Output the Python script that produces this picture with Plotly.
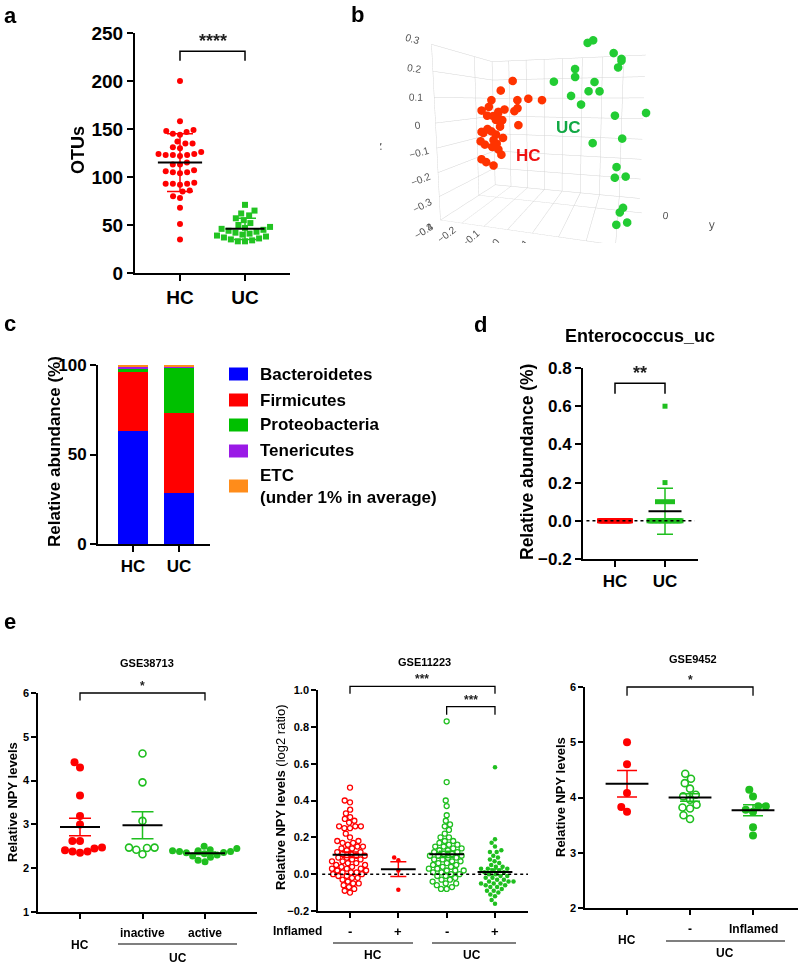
import numpy as np
import plotly.graph_objects as go

W, H = 800, 967
FONT = "Liberation Sans, Arial, Helvetica, sans-serif"
RED = "#ff0000"
GREEN = "#1fbf1f"
GREEN_A = "#22c322"

# ---------------- data ----------------
# a: OTUs
a_groups = ["HC", "UC"]
a_hc = [200, 158, 149, 148, 147, 145, 144, 137, 135, 135, 131, 130, 126, 124, 124, 123, 123, 123, 122,
        115, 113, 113, 107, 106, 105, 105, 104, 94, 93, 93, 93, 92, 86, 85, 80, 78, 68, 51, 35]
a_uc = [71, 65, 62, 60, 57, 55, 52, 50, 48, 47, 46, 45, 44, 43, 42, 41, 40, 39, 38, 37, 36, 35, 34, 33, 33]
a_mean = [115, 46]
a_sd = [30, 11]

# b: PCoA 3D
b_hc_x = [0.015, -0.025, -0.08, 0.08, 0.12, 0.035, -0.12, -0.075, -0.055, -0.02, 0.025, 0.03, -0.10, -0.065,
          -0.03, 0.045, -0.04, -0.13, -0.105, -0.08, -0.055, -0.02, -0.075, -0.125, -0.10, -0.065, -0.075,
          -0.04, -0.04, -0.12, -0.11, -0.065, -0.05, -0.06, -0.09]
b_hc_z = [0.16, 0.125, 0.09, 0.095, 0.09, 0.09, 0.05, 0.065, 0.045, 0.055, 0.05, 0.06, 0.03, 0.03, 0.015,
          0.0, -0.01, -0.035, -0.035, -0.03, -0.04, -0.05, -0.065, -0.07, -0.08, -0.08, -0.09, -0.095,
          -0.12, -0.14, -0.155, -0.16, 0.04, 0.015, -0.02]
b_hc_y = [-0.44, -0.47, -0.42, -0.46, -0.40, -0.45, -0.43, -0.47, -0.41, -0.44, -0.46, -0.43, -0.42, -0.45,
          -0.44, -0.48, -0.44, -0.41, -0.46, -0.43, -0.45, -0.47, -0.42, -0.44, -0.46, -0.41, -0.44, -0.47,
          -0.43, -0.45, -0.42, -0.46, -0.43, -0.43, -0.45]
b_uc_x = [0.285, 0.305, 0.375, 0.40, 0.40, 0.39, 0.24, 0.245, 0.17, 0.315, 0.295, 0.33, 0.23, 0.27, 0.385,
          0.48, 0.41, 0.31, 0.395, 0.39, 0.425, 0.42, 0.41, 0.40, 0.435]
b_uc_z = [0.285, 0.29, 0.24, 0.22, 0.215, 0.195, 0.20, 0.17, 0.155, 0.15, 0.12, 0.12, 0.105, 0.075, 0.04,
          0.05, -0.035, -0.06, -0.13, -0.17, -0.16, -0.27, -0.285, -0.33, -0.32]
b_uc_y = [-0.40, -0.42, -0.47, -0.48, -0.47, -0.46, -0.38, -0.42, -0.43, -0.46, -0.45, -0.42, -0.41, -0.45,
          -0.49, -0.49, -0.48, -0.42, -0.49, -0.47, -0.49, -0.48, -0.49, -0.49, -0.48]

# c: phylum composition
c_groups = ["HC", "UC"]
c_phyla = ["Bacteroidetes", "Firmicutes", "Proteobacteria", "Tenericutes", "ETC<br>(under 1% in average)"]
c_colors = ["#0000ff", "#ff0000", "#00c000", "#9a1ae6", "#ff8c1a"]
c_hc = [63.2, 32.8, 1.6, 1.2, 1.2]
c_uc = [28.3, 44.7, 25.8, 0.2, 1.0]

# d: Enterococcus_uc
d_groups = ["HC", "UC"]
d_hc = [0.0, 0.0, 0.0, 0.0, 0.0, 0.0, 0.0, 0.0, 0.0, 0.0, 0.0, 0.0, 0.0, 0.0, 0.0, 0.0, 0.0, 0.0,
        0.0, 0.0, 0.0, 0.0, 0.0, 0.0, 0.0, 0.0, 0.0, 0.0, 0.0, 0.0, 0.0, 0.0, 0.0, 0.0, 0.0]
d_uc = [0.0, 0.0, 0.0, 0.0, 0.0, 0.0, 0.0, 0.0, 0.0, 0.0, 0.0, 0.0, 0.0, 0.0, 0.0, 0.0, 0.0, 0.0,
        0.0, 0.0, 0.0, 0.0, 0.0, 0.0, 0.1, 0.1, 0.1, 0.1, 0.2, 0.6]
d_mean = [0.0, 0.05]
d_sd = [0.0, 0.12]

# e1: GSE38713
e1_hc = [4.42, 4.30, 3.66, 3.19, 3.00, 2.62, 2.62, 2.47, 2.45, 2.38, 2.38, 2.35, 2.41]
e1_inactive = [4.62, 3.96, 3.08, 2.46, 2.47, 2.32, 2.42, 2.47]
e1_active = [2.50, 2.45, 2.42, 2.40, 2.40, 2.38, 2.38, 2.36, 2.35, 2.33, 2.30, 2.28, 2.25, 2.18, 2.15]
e1_mean = [2.94, 2.98, 2.34]
e1_sem = [0.20, 0.31, 0.03]

# e2: GSE11223
e2_hc_non = [0.47, 0.40, 0.39, 0.35, 0.33, 0.31, 0.30, 0.29, 0.28, 0.26, 0.26, 0.26, 0.25, 0.25, 0.22, 0.20,
             0.18, 0.18, 0.17, 0.17, 0.16, 0.15, 0.15, 0.14, 0.14, 0.13, 0.12, 0.12, 0.11, 0.11, 0.10, 0.10,
             0.09, 0.09, 0.08, 0.08, 0.07, 0.07, 0.06, 0.06, 0.05, 0.05, 0.04, 0.04, 0.03, 0.03, 0.03, 0.02,
             0.02, 0.01, 0.01, 0.01, 0.00, 0.00, -0.01, -0.01, -0.02, -0.02, -0.03, -0.04, -0.05, -0.05,
             -0.06, -0.07, -0.08, -0.09, -0.10]
e2_hc_inf = [0.09, 0.075, 0.02, -0.085]
e2_uc_non = [0.83, 0.50, 0.40, 0.37, 0.32, 0.29, 0.27, 0.26, 0.24, 0.22, 0.20, 0.20, 0.18, 0.18, 0.17, 0.16,
             0.16, 0.15, 0.15, 0.14, 0.14, 0.13, 0.13, 0.12, 0.12, 0.11, 0.11, 0.10, 0.10, 0.10, 0.09, 0.09,
             0.08, 0.08, 0.07, 0.07, 0.06, 0.06, 0.05, 0.05, 0.04, 0.04, 0.03, 0.03, 0.02, 0.02, 0.02, 0.01,
             0.01, 0.00, 0.00, -0.01, -0.01, -0.02, -0.03, -0.03, -0.04, -0.05, -0.05, -0.06, -0.07, -0.08,
             -0.08]
e2_uc_inf = [0.58, 0.19, 0.17, 0.15, 0.13, 0.12, 0.12, 0.10, 0.09, 0.08, 0.07, 0.06, 0.05, 0.04, 0.04, 0.03,
             0.03, 0.03, 0.02, 0.02, 0.01, 0.01, 0.00, 0.00, -0.01, -0.01, -0.02, -0.02, -0.03, -0.03, -0.04,
             -0.04, -0.04, -0.05, -0.05, -0.05, -0.06, -0.06, -0.07, -0.07, -0.08, -0.09, -0.09, -0.10,
             -0.11, -0.12, -0.14, -0.16]
e2_mean = [0.105, 0.027, 0.108, 0.012]
e2_sem = [0.015, 0.040, 0.017, 0.016]

# e3: GSE9452
e3_hc = [5.00, 4.60, 4.08, 3.74, 3.83]
e3_uc_non = [4.43, 4.34, 4.26, 4.16, 4.02, 4.05, 3.96, 3.87, 3.80, 3.82, 3.61, 3.68]
e3_uc_inf = [4.14, 4.02, 3.78, 3.84, 3.74, 3.84, 3.46, 3.31]
e3_mean = [4.25, 4.00, 3.77]
e3_sem = [0.24, 0.07, 0.10]

# significance brackets: (group_a, group_b, top, drop, label)
a_sig = [(0, 1, 231, 221, "****")]
d_sig = [(0, 1, 0.72, 0.665, "**")]
e1_sig = [(0, 2, 6.0, 5.83, "*")]
e2_sig = [(0, 3, 1.02, 0.98, "***"), (2, 3, 0.91, 0.865, "***")]
e3_sig = [(0, 2, 6.0, 5.84, "*")]

# ---------------- layout geometry (pixels) ----------------
P = {
    "a": dict(ax="", xpx=(135, 290), ypx=(33, 273), xr=(-0.692, 1.692), yr=(0, 250)),
    "c": dict(ax="2", xpx=(98, 210), ypx=(365, 544), xr=(-0.76, 1.67), yr=(0, 100)),
    "d": dict(ax="3", xpx=(583, 698), ypx=(368, 559), xr=(-0.64, 1.66), yr=(-0.2, 0.8)),
    "e1": dict(ax="4", xpx=(38, 257), ypx=(693, 912), xr=(-0.672, 2.832), yr=(1, 6)),
    "e2": dict(ax="5", xpx=(318, 528), ypx=(690, 911), xr=(-0.662, 3.683), yr=(-0.2, 1.0)),
    "e3": dict(ax="6", xpx=(585, 798), ypx=(687, 908), xr=(-0.667, 2.714), yr=(2, 6)),
}


def ppu(p):
    return ((p["xpx"][1] - p["xpx"][0]) / (p["xr"][1] - p["xr"][0]),
            (p["ypx"][1] - p["ypx"][0]) / (p["yr"][1] - p["yr"][0]))


def xpaper(p, v):
    x0, x1 = p["xpx"]; r0, r1 = p["xr"]
    return (x0 + (v - r0) / (r1 - r0) * (x1 - x0)) / W


def ypaper(p, v):
    t, b = p["ypx"]; r0, r1 = p["yr"]
    return 1 - (b - (v - r0) / (r1 - r0) * (b - t)) / H


def swarm(vals, p, d):
    ux, uy = ppu(p)
    order = sorted(range(len(vals)), key=lambda i: vals[i])
    placed = []
    offs = [0.0] * len(vals)
    for i in order:
        y = vals[i] * uy
        cands = [0.0]
        for (qx, qy) in placed:
            dy = abs(qy - y)
            if dy < d:
                dx = np.sqrt(d * d - dy * dy)
                cands += [qx + dx, qx - dx]
        cands.sort(key=lambda c: (round(abs(c), 6), c))
        chosen = cands[-1]
        for c in cands:
            if all((c - qx) ** 2 + (y - qy) ** 2 >= d * d - 1e-6 for qx, qy in placed):
                chosen = c
                break
        placed.append((chosen, y))
        offs[i] = chosen / ux
    return offs


def spread_ties(vals, p, step, maxhalf):
    ux, _ = ppu(p)
    offs = [0.0] * len(vals)
    groups = {}
    for i, v in enumerate(vals):
        groups.setdefault(v, []).append(i)
    for v, idx in groups.items():
        n = len(idx)
        half = min((n - 1) * step / 2.0, maxhalf) / ux
        pos = np.linspace(-half, half, n) if n > 1 else [0.0]
        for k, i in enumerate(idx):
            offs[i] = pos[k]
    return offs


fig = go.Figure()


def add_points(p, gi, vals, offs, symbol, size, color, lw=0):
    ax = p["ax"]
    fig.add_trace(go.Scatter(
        x=[gi + o for o in offs], y=vals, mode="markers",
        marker=dict(symbol=symbol, size=size, color=color, line=dict(width=lw, color=color)),
        xaxis="x" + ax, yaxis="y" + ax, showlegend=False, hoverinfo="skip", cliponaxis=False))


def add_meanbar(p, gi, m, e, color, half, cap, lw=2):
    ax = p["ax"]
    fig.add_trace(go.Scatter(
        x=[gi], y=[m], mode="markers", marker=dict(size=1, color="rgba(0,0,0,0)"),
        error_y=dict(type="data", array=[e], visible=True, color=color, thickness=1.5, width=cap),
        xaxis="x" + ax, yaxis="y" + ax, showlegend=False, hoverinfo="skip"))
    fig.add_trace(go.Scatter(
        x=[gi - half, gi + half], y=[m, m], mode="lines", line=dict(color="black", width=lw),
        xaxis="x" + ax, yaxis="y" + ax, showlegend=False, hoverinfo="skip"))


shapes = []
annotations = []


def bracket(p, sig, fsize, lw=1.5):
    for ga, gb, top, drop, lab in sig:
        xa, xb = xpaper(p, ga), xpaper(p, gb)
        yt, yd = ypaper(p, top), ypaper(p, drop)
        shapes.append(dict(type="path", xref="paper", yref="paper",
                           path=f"M {xa},{yd} L {xa},{yt} L {xb},{yt} L {xb},{yd}",
                           line=dict(color="black", width=lw)))
        annotations.append(dict(x=(xa + xb) / 2, y=yt, xref="paper", yref="paper", text=f"<b>{lab}</b>",
                                showarrow=False, yanchor="bottom", xanchor="center",
                                font=dict(size=fsize, color="#222", family=FONT), yshift=-2))


def text(xpx, ypx, s, size, color="black", bold=True, angle=0, xanchor="center", align="center"):
    annotations.append(dict(x=xpx / W, y=1 - ypx / H, xref="paper", yref="paper",
                            text=(f"<b>{s}</b>" if bold else s), showarrow=False, textangle=angle,
                            xanchor=xanchor, yanchor="middle", align=align,
                            font=dict(size=size, color=color, family=FONT)))


# ---------------- panel a ----------------
pa = P["a"]
add_points(pa, 0, a_hc, swarm(a_hc, pa, 7.2), "circle", 6, RED)
add_points(pa, 1, a_uc, swarm(a_uc, pa, 7.2), "square", 6, GREEN_A)
add_meanbar(pa, 0, a_mean[0], a_sd[0], RED, 0.34, 13)
add_meanbar(pa, 1, a_mean[1], a_sd[1], GREEN_A, 0.30, 11)
bracket(pa, a_sig, 18)
text(78, 150, "OTUs", 18, angle=-90)

# ---------------- panel b ----------------
fig.add_trace(go.Scatter3d(x=b_hc_x, y=b_hc_y, z=b_hc_z, mode="markers",
                           marker=dict(size=5, color="#ff3300", line=dict(width=0)),
                           scene="scene", showlegend=False, hoverinfo="skip"))
fig.add_trace(go.Scatter3d(x=b_uc_x, y=b_uc_y, z=b_uc_z, mode="markers",
                           marker=dict(size=5, color="#22cc33", line=dict(width=0)),
                           scene="scene", showlegend=False, hoverinfo="skip"))
ax3d = dict(showbackground=False, gridcolor="#d4d4d4", gridwidth=1, zeroline=False, showspikes=False,
            showline=False, ticks="", tickfont=dict(size=11, color="#555", family=FONT))
t3d = dict(size=12, color="#555", family=FONT)
text(528, 155, "HC", 17, color="#ee1111")
text(568, 128, "UC", 17, color="#11a844")

# ---------------- panel c ----------------
pc = P["c"]
for i, name in enumerate(c_phyla):
    fig.add_trace(go.Bar(x=[0, 1], y=[c_hc[i], c_uc[i]], marker=dict(color=c_colors[i], line=dict(width=0)),
                         width=0.65, xaxis="x2", yaxis="y2", showlegend=False, hoverinfo="skip"))
leg_rows = [374, 400, 425, 451, 486]
for i, name in enumerate(c_phyla):
    y = leg_rows[i]
    shapes.append(dict(type="rect", xref="paper", yref="paper", x0=229 / W, x1=248 / W,
                       y0=1 - (y + 6.5) / H, y1=1 - (y - 6.5) / H, fillcolor=c_colors[i],
                       line=dict(width=0)))
    text(258, y, name, 17, xanchor="left", align="left")
text(55, 452, "Relative abundance (%)", 17, angle=-90)

# ---------------- panel d ----------------
pdd = P["d"]
shapes.append(dict(type="line", xref="x3 domain", yref="y3", x0=0.03, x1=0.97, y0=0, y1=0,
                   line=dict(color="black", width=1.5, dash="dot")))
add_points(pdd, 0, d_hc, spread_ties(d_hc, pdd, 5, 15.5), "square", 5, RED)
add_points(pdd, 1, d_uc, spread_ties(d_uc, pdd, 5, 16), "square", 5, GREEN)
add_meanbar(pdd, 1, d_mean[1], d_sd[1], GREEN, 0.33, 8)
bracket(pdd, d_sig, 18)
text(640, 336, "Enterococcus_uc", 18)
text(527, 462, "Relative abundance (%)", 17.5, angle=-90)

# ---------------- panel e1 ----------------
p1 = P["e1"]
add_points(p1, 0, e1_hc, swarm(e1_hc, p1, 7.6), "circle", 8, RED)
add_points(p1, 1, e1_inactive, swarm(e1_inactive, p1, 7.6), "circle-open", 7, GREEN, lw=1.6)
add_points(p1, 2, e1_active, swarm(e1_active, p1, 7.0), "circle", 7, GREEN)
add_meanbar(p1, 0, e1_mean[0], e1_sem[0], RED, 0.32, 11)
add_meanbar(p1, 1, e1_mean[1], e1_sem[1], GREEN, 0.32, 11)
add_meanbar(p1, 2, e1_mean[2], e1_sem[2], GREEN, 0.32, 11)
bracket(p1, e1_sig, 12, lw=1.3)
text(147, 663, "GSE38713", 11)
text(12, 802, "Relative NPY levels", 13, angle=-90)
for gi, s, yy in [(0, "HC", 945), (1, "inactive", 933), (2, "active", 933)]:
    annotations.append(dict(x=gi, y=1 - yy / H, xref="x4", yref="paper", text=f"<b>{s}</b>", showarrow=False,
                            xanchor="center", yanchor="middle", font=dict(size=12, family=FONT, color="black")))
shapes.append(dict(type="line", xref="paper", yref="paper", x0=118 / W, x1=237 / W, y0=1 - 944 / H,
                   y1=1 - 944 / H, line=dict(color="black", width=1.2)))
text(178, 958, "UC", 12)

# ---------------- panel e2 ----------------
p2 = P["e2"]
shapes.append(dict(type="line", xref="x5 domain", yref="y5", x0=0.02, x1=1.0, y0=0, y1=0,
                   line=dict(color="black", width=1.5, dash="dot")))
add_points(p2, 0, e2_hc_non, swarm(e2_hc_non, p2, 5.6), "circle-open", 5, RED, lw=1.3)
add_points(p2, 1, e2_hc_inf, swarm(e2_hc_inf, p2, 5.0), "circle", 4.5, RED)
add_points(p2, 2, e2_uc_non, swarm(e2_uc_non, p2, 5.6), "circle-open", 5, GREEN, lw=1.3)
add_points(p2, 3, e2_uc_inf, swarm(e2_uc_inf, p2, 5.0), "circle", 4.5, GREEN)
for gi, col in enumerate([RED, RED, GREEN, GREEN]):
    add_meanbar(p2, gi, e2_mean[gi], e2_sem[gi], col, 0.36, 8)
bracket(p2, e2_sig, 12, lw=1.3)
text(424, 662, "GSE11223", 11)
text(280, 798, "<b>Relative NPY levels</b> (log2 ratio)", 13, bold=False, angle=-90)
text(297, 931, "Inflamed", 12)
for gi, s in enumerate(["-", "+", "-", "+"]):
    annotations.append(dict(x=gi, y=1 - 931 / H, xref="x5", yref="paper", text=f"<b>{s}</b>", showarrow=False,
                            xanchor="center", yanchor="middle", font=dict(size=13, family=FONT, color="black")))
for x0, x1 in [(333, 413), (432, 516)]:
    shapes.append(dict(type="line", xref="paper", yref="paper", x0=x0 / W, x1=x1 / W, y0=1 - 943 / H,
                       y1=1 - 943 / H, line=dict(color="black", width=1.2)))
text(373, 955, "HC", 12)
text(472, 955, "UC", 12)

# ---------------- panel e3 ----------------
p3 = P["e3"]
add_points(p3, 0, e3_hc, swarm(e3_hc, p3, 7.6), "circle", 8, RED)
add_points(p3, 1, e3_uc_non, swarm(e3_uc_non, p3, 7.6), "circle-open", 7, GREEN, lw=1.6)
add_points(p3, 2, e3_uc_inf, swarm(e3_uc_inf, p3, 7.6), "circle", 8, GREEN)
add_meanbar(p3, 0, e3_mean[0], e3_sem[0], RED, 0.34, 10)
add_meanbar(p3, 1, e3_mean[1], e3_sem[1], GREEN, 0.34, 10)
add_meanbar(p3, 2, e3_mean[2], e3_sem[2], GREEN, 0.34, 10)
bracket(p3, e3_sig, 12, lw=1.3)
text(693, 659, "GSE9452", 11)
text(560, 797, "Relative NPY levels", 13, angle=-90)
for gi, s, yy in [(0, "HC", 940), (1, "-", 929), (2, "Inflamed", 929)]:
    annotations.append(dict(x=gi, y=1 - yy / H, xref="x6", yref="paper", text=f"<b>{s}</b>", showarrow=False,
                            xanchor="center", yanchor="middle", font=dict(size=12, family=FONT, color="black")))
shapes.append(dict(type="line", xref="paper", yref="paper", x0=666 / W, x1=785 / W, y0=1 - 941 / H,
                   y1=1 - 941 / H, line=dict(color="black", width=1.2)))
text(725, 953, "UC", 12)

# panel letters
for s, x, y in [("a", 10, 15), ("b", 357, 14), ("c", 10, 323), ("d", 481, 324), ("e", 10, 621)]:
    text(x, y, s, 22)


# ---------------- axes ----------------
def axes(p, ticksize, lw, tl, xticks, xtext, ytickvals, yfmt=None):
    xd = [p["xpx"][0] / W, p["xpx"][1] / W]
    yd = [1 - p["ypx"][1] / H, 1 - p["ypx"][0] / H]
    ax = p["ax"]
    common = dict(showline=True, linecolor="black", linewidth=lw, ticks="outside", ticklen=tl,
                  tickwidth=lw, tickcolor="black", showgrid=False, zeroline=False, fixedrange=True,
                  tickfont=dict(size=ticksize, family=FONT, color="black", weight="bold"))
    xa = dict(domain=xd, range=list(p["xr"]), tickvals=xticks, ticktext=xtext,
              anchor="y" + ax, showticklabels=xtext is not None, **common)
    ya = dict(domain=yd, range=list(p["yr"]), tickvals=ytickvals, anchor="x" + ax, **common)
    if yfmt:
        ya["tickformat"] = yfmt
    return xa, ya


lay = {}
for key, (ts, lw, tl, xt, xtx, yt, fmt) in {
    "a": (19, 2, 6, [0, 1], a_groups, [0, 50, 100, 150, 200, 250], None),
    "c": (17, 2, 6, [0, 1], c_groups, [0, 50, 100], None),
    "d": (17, 2, 6, [0, 1], d_groups, [-0.2, 0.0, 0.2, 0.4, 0.6, 0.8], ".1f"),
    "e1": (11, 1.6, 5, [0, 1, 2], None, [1, 2, 3, 4, 5, 6], None),
    "e2": (11, 1.6, 5, [0, 1, 2, 3], None, [-0.2, 0.0, 0.2, 0.4, 0.6, 0.8, 1.0], ".1f"),
    "e3": (11, 1.6, 5, [0, 1, 2], None, [2, 3, 4, 5, 6], None),
}.items():
    p = P[key]
    xa, ya = axes(p, ts, lw, tl, xt, xtx, yt, fmt)
    n = p["ax"]
    lay["xaxis" + n] = xa
    lay["yaxis" + n] = ya

fig.update_layout(
    width=W, height=H, margin=dict(l=0, r=0, t=0, b=0, autoexpand=False),
    paper_bgcolor="white", plot_bgcolor="white", barmode="stack", bargap=0,
    font=dict(family=FONT, color="black"),
    showlegend=False, shapes=shapes, annotations=annotations,
    scene=dict(
        domain=dict(x=[380 / W, 720 / W], y=[1 - 243 / H, 1 - 21 / H]),
        xaxis=dict(range=[-0.3, 0.5], tickvals=[-0.3, -0.2, -0.1, 0, 0.1, 0.2, 0.3, 0.4],
                   title=dict(text="x", font=t3d), **ax3d),
        yaxis=dict(range=[-0.5, 0.3], tickvals=[-0.5, 0], title=dict(text="y", font=t3d), **ax3d),
        zaxis=dict(range=[-0.4, 0.3], tickvals=[-0.4, -0.3, -0.2, -0.1, 0, 0.1, 0.2, 0.3],
                   title=dict(text="z", font=t3d), **ax3d),
        aspectmode="manual", aspectratio=dict(x=1, y=0.6, z=0.875),
        camera=dict(eye=dict(x=0.4, y=-1.41, z=0.175), center=dict(x=0, y=0, z=0)),
        bgcolor="white",
    ),
    **lay,
)

POST = ("document.documentElement.style.margin='0';document.documentElement.style.padding='0';"
        "document.body.style.margin='0';document.body.style.padding='0';"
        "document.body.style.fontSize='0';document.body.style.lineHeight='0';"
        "document.documentElement.style.overflow='hidden';document.body.style.overflow='hidden';"
        "var g=document.getElementById('{plot_id}');"
        "if(g&&g.parentElement){g.parentElement.style.fontSize='0';g.parentElement.style.lineHeight='0';"
        "g.parentElement.style.margin='0';g.parentElement.style.padding='0';}")
fig.write_html("out.html", config={"displayModeBar": False}, post_script=POST)
